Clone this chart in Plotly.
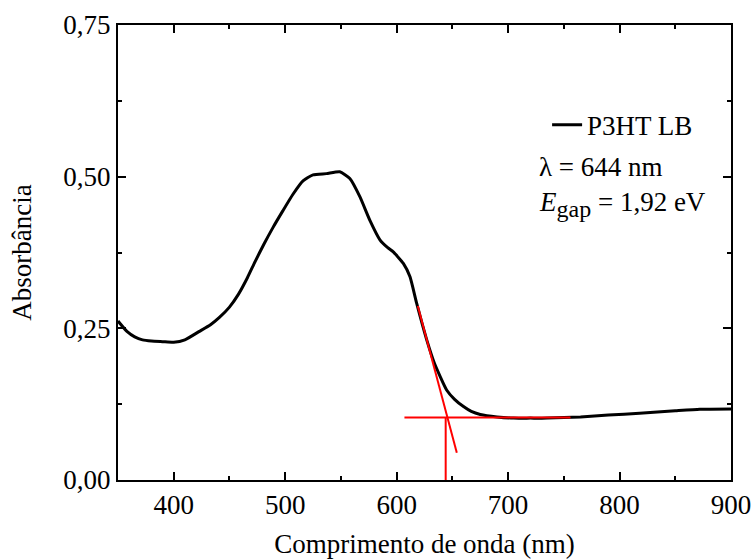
import plotly.graph_objects as go

wavelength = [350, 358, 365, 372, 380, 390, 400, 410, 423, 433, 441, 450, 458, 466, 473, 481, 489, 498, 507, 516,
              525, 537, 549, 558, 567, 576, 585, 592, 597, 606, 612, 618, 627, 634, 645, 652, 660, 667, 675, 690,
              705, 720, 735, 765, 790, 818, 850, 872, 900]
absorb = [0.262, 0.245, 0.236, 0.231, 0.229, 0.228, 0.227, 0.231, 0.245, 0.256, 0.268, 0.285, 0.306, 0.333, 0.360,
          0.389, 0.416, 0.444, 0.471, 0.493, 0.503, 0.505, 0.508, 0.497, 0.467, 0.428, 0.396, 0.383, 0.376, 0.357,
          0.335, 0.291, 0.231, 0.192, 0.148, 0.133, 0.121, 0.113, 0.108, 0.104, 0.102, 0.102, 0.102, 0.104, 0.107,
          0.110, 0.114, 0.1165, 0.117]

tangent_x = [619, 654]
tangent_y = [0.287, 0.045]
baseline_x = [607, 756]
baseline_y = [0.103, 0.103]
gap_x = [644, 644]
gap_y = [0.0, 0.103]

x_ticks = [400, 500, 600, 700, 800, 900]
y_ticks = [0.0, 0.25, 0.5, 0.75]
y_ticklabels = ["0,00", "0,25", "0,50", "0,75"]

FONT = "Liberation Serif, Times New Roman, serif"
FS = 27

fig = go.Figure()
fig.add_trace(go.Scatter(x=wavelength, y=absorb, mode="lines", name="P3HT LB",
                         line=dict(color="black", width=3, shape="spline", smoothing=0.5)))
for xs, ys in [(tangent_x, tangent_y), (baseline_x, baseline_y), (gap_x, gap_y)]:
    fig.add_trace(go.Scatter(x=xs, y=ys, mode="lines", showlegend=False, cliponaxis=False,
                             line=dict(color="#ff0000", width=2)))

axis_common = dict(showline=True, linecolor="black", linewidth=2, mirror="ticks",
                   ticks="inside", ticklen=8, tickwidth=2, tickcolor="black",
                   showgrid=False, zeroline=False, automargin=False,
                   tickfont=dict(family=FONT, size=FS, color="black"))

fig.update_xaxes(range=[350, 900], tickvals=x_ticks,
                 minor=dict(ticks="inside", ticklen=4, tickwidth=2, tickcolor="black", dtick=50, tick0=350),
                 title=dict(text="Comprimento de onda (nm)", font=dict(family=FONT, size=FS, color="black"), standoff=18),
                 **axis_common)
fig.update_yaxes(range=[0, 0.75], tickvals=y_ticks, ticktext=y_ticklabels,
                 minor=dict(ticks="inside", ticklen=4, tickwidth=2, tickcolor="black", dtick=0.125, tick0=0),
                 title=dict(text="Absorbância", font=dict(family=FONT, size=FS, color="black"), standoff=24),
                 **axis_common)

fig.update_layout(
    width=752, height=559,
    margin=dict(l=118, r=21, t=25, b=79),
    plot_bgcolor="white", paper_bgcolor="white",
    font=dict(family=FONT, size=FS, color="black"),
    legend=dict(x=0.70, y=0.78, xanchor="left", yanchor="middle", bgcolor="rgba(0,0,0,0)",
                font=dict(family=FONT, size=27, color="black")),
)
fig.add_annotation(xref="paper", yref="paper", x=0.683, y=0.688, xanchor="left", yanchor="middle",
                   text="λ = 644 nm", showarrow=False, font=dict(family=FONT, size=27, color="black"))
fig.add_annotation(xref="paper", yref="paper", x=0.683, y=0.605, xanchor="left", yanchor="middle",
                   text="<i>E</i><sub><span style=\"font-size:24px\">gap</span></sub> = 1,92 eV", showarrow=False,
                   font=dict(family=FONT, size=27, color="black"))

fig.write_html("out.html", config={"displayModeBar": False},
               post_script="document.body.style.margin='0';document.body.style.overflow='hidden';")
